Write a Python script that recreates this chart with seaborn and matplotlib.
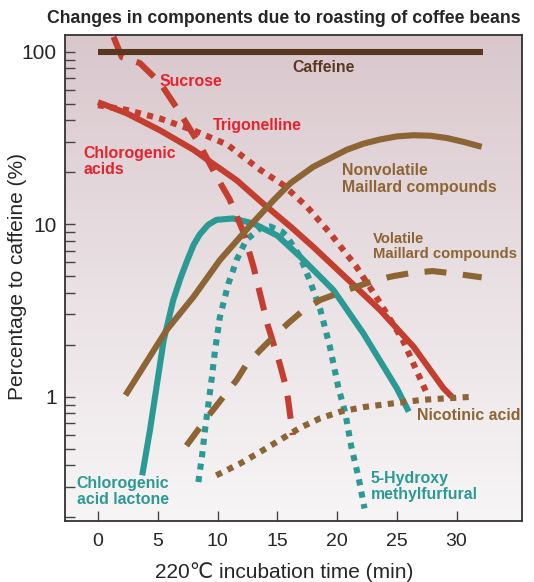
import numpy as np
import pandas as pd
import seaborn as sns
import matplotlib.pyplot as plt
from matplotlib.colors import LinearSegmentedColormap
from matplotlib.ticker import LogLocator, NullFormatter

sns.set_style('white')
plt.rcParams['font.family'] = ['Liberation Sans', 'DejaVu Sans']

# values: time (min) vs % of caffeine
caffeine_t = [0, 32.2]
caffeine_v = [100, 100]

sucrose_t = [1.3, 2.0, 3.5, 5.2, 6.7, 8.5, 9.9, 11.0, 12.2, 13.0, 14.2, 15.2, 15.8, 16.3]
sucrose_v = [122, 93, 86, 66, 46, 29, 19, 14, 8.9, 5.7, 2.6, 1.56, 1.09, 0.6]

chlorogenic_t = [0, 2.4, 5.2, 8, 9.4, 11.6, 13.8, 16.1, 18, 21.4, 23.6, 26.4, 28.9, 29.6]
chlorogenic_v = [51, 44, 35, 27, 23, 18, 13.2, 9.7, 7.4, 4.44, 3.18, 1.95, 1.12, 1.0]

trigonelline_t = [0, 2.4, 5.2, 8, 10.8, 13.6, 15.5, 17.5, 19.4, 21.6, 23.6, 25.5, 27.5]
trigonelline_v = [49, 46, 41, 35, 29, 20.6, 16.9, 12.6, 8.9, 5.7, 3.5, 2.13, 1.05]

nonvolatile_t = [2.3, 5.75, 8, 10.2, 12.4, 14.7, 16.1, 18, 20.8, 22.2, 23.6, 25.0, 26.4, 27.8, 29.2, 30.6, 32.1]
nonvolatile_v = [1.02, 2.44, 3.8, 6.2, 9.25, 13.8, 17.3, 21.5, 27.0, 29.3, 31.0, 32.3, 32.8, 32.6, 31.6, 30.0, 28.1]

volatile_t = [7.4, 8.5, 9.4, 10.5, 11.6, 12.4, 13.6, 14.7, 16, 17.2, 18.6, 20.1, 21.6, 23.3, 24.7, 26.4, 28, 29.7, 32.1]
volatile_v = [0.52, 0.66, 0.8, 1.0, 1.25, 1.53, 1.87, 2.23, 2.7, 3.18, 3.64, 3.98, 4.34, 4.75, 5.0, 5.24, 5.35, 5.19, 4.92]

nicotinic_t = [9.9, 11.9, 13.6, 15.2, 16.9, 18.6, 20.3, 22.2, 24.4, 27.2, 31.4]
nicotinic_v = [0.35, 0.41, 0.48, 0.56, 0.66, 0.75, 0.82, 0.87, 0.91, 0.96, 1.0]

lactone_t = [3.7, 4.35, 4.9, 5.5, 6.3, 6.9, 7.4, 8.0, 8.5, 9.2, 9.9, 11.3, 13.0, 15.0, 16.9, 19.7, 22.2, 25.0, 26.0]
lactone_v = [0.35, 0.64, 1.14, 2.13, 3.64, 4.86, 6.0, 7.6, 8.7, 9.9, 10.6, 10.8, 10.1, 8.6, 6.5, 4.15, 2.33, 1.12, 0.82]

hmf_t = [8.4, 8.7, 8.95, 9.25, 9.5, 9.8, 10.2, 10.9, 11.6, 12.4, 13.6, 14.4, 15.4, 15.8, 16.9, 17.7, 18.6, 19.4, 20.1, 20.7, 21.2, 21.8, 22.3]
hmf_v = [0.32, 0.45, 0.64, 0.92, 1.25, 1.87, 2.9, 4.5, 6.2, 8.1, 9.5, 9.7, 9.05, 8.5, 6.5, 4.75, 3.2, 1.95, 1.14, 0.8, 0.51, 0.34, 0.225]

red = '#c33e2e'
red_txt = '#e8222c'
brown = '#8d6433'
dark = '#5a3820'
teal = '#2b9a95'

dash_red = (0, (3.8, 2.3))
dash_brown = (0, (3.6, 2.7))
dots = (0, (1, 1.05))

# drawing order: teal under red under brown
series = [
    (lactone_t, lactone_v, teal, '-'),
    (hmf_t, hmf_v, teal, dots),
    (chlorogenic_t, chlorogenic_v, red, '-'),
    (trigonelline_t, trigonelline_v, red, dots),
    (sucrose_t, sucrose_v, red, dash_red),
    (nonvolatile_t, nonvolatile_v, brown, '-'),
    (volatile_t, volatile_v, brown, dash_brown),
    (nicotinic_t, nicotinic_v, brown, dots),
    (caffeine_t, caffeine_v, dark, '-'),
]

fig = plt.figure(figsize=(5.34, 5.82), dpi=100)
pos = [0.1217, 0.1053, 0.8564, 0.8345]

# background gradient behind the plot
bg = fig.add_axes(pos, zorder=0)
cmap = LinearSegmentedColormap.from_list('bg', ['#d9c7cc', '#e9e0e3', '#f7f5f6'])
bg.imshow(np.linspace(0, 1, 256).reshape(-1, 1), cmap=cmap, aspect='auto', extent=(0, 1, 0, 1))
bg.axis('off')

ax = fig.add_axes(pos, zorder=1)
ax.set_facecolor('none')

for t, v, c, ls in series:
    sns.lineplot(x=t, y=v, ax=ax, color=c, lw=4.4, linestyle=ls, sort=False,
                 estimator=None, solid_capstyle='butt', dash_capstyle='butt',
                 solid_joinstyle='round')

ax.set_yscale('log')
ax.set_xlim(-2.76, 35.5)
ax.set_ylim(0.191, 125)

ax.set_xticks(range(0, 31, 5))
ax.set_yticks([1, 10, 100])
ax.set_yticklabels(['1', '10', '100'])
ax.yaxis.set_minor_locator(LogLocator(base=10, subs=np.arange(2, 10), numticks=20))
ax.yaxis.set_minor_formatter(NullFormatter())
ax.tick_params(axis='both', which='both', direction='in', length=7.5, width=1,
               color='#444444', left=True, bottom=True, top=False, right=False)
ax.tick_params(axis='x', which='minor', bottom=False)
ax.tick_params(axis='x', labelsize=14, pad=9)
ax.tick_params(axis='y', labelsize=15, pad=6)
for s in ax.spines.values():
    s.set_color('#333333')
    s.set_linewidth(1.3)

ax.set_xlabel('220℃ incubation time (min)', fontsize=15, va='center')
ax.xaxis.set_label_coords(0.479, -0.106)
ax.set_ylabel('Percentage to caffeine (%)', fontsize=15, va='center')
ax.yaxis.set_label_coords(-0.103, 0.502)

fig.text(0.532, 0.969, 'Changes in components due to roasting of coffee beans',
         fontsize=12.7, fontweight='bold', ha='center', va='center')

lab = dict(fontsize=11.4, fontweight='bold', va='center', ha='left', linespacing=1.1)
ax.text(18.9, 81.5, 'Caffeine', color=dark, **dict(lab, ha='center'))
ax.text(5.19, 67, 'Sucrose', color=red_txt, **lab)
ax.text(9.65, 37.6, 'Trigonelline', color=red_txt, **lab)
ax.text(-1.23, 23, 'Chlorogenic\nacids', color=red_txt, **lab)
ax.text(20.4, 18.3, 'Nonvolatile\nMaillard compounds', color=brown, **lab)
ax.text(23.0, 7.4, 'Volatile\nMaillard compounds', color=brown, **dict(lab, fontsize=10.7))
ax.text(26.7, 0.783, 'Nicotinic acid', color=brown, **lab)
ax.text(22.8, 0.301, '5-Hydroxy\nmethylfurfural', color=teal, **lab)
ax.text(-1.78, 0.281, 'Chlorogenic\nacid lactone', color=teal, **lab)

fig.savefig('out.png', dpi=100)
